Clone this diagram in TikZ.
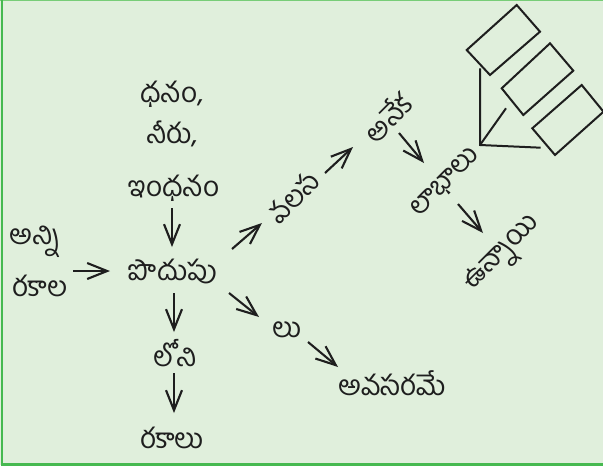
\documentclass[tikz,border=0pt]{standalone}
\usepackage{fontspec}
\newfontfamily\telugu[Script=Telugu]{Hind Guntur}
\usetikzlibrary{arrows.meta}
\definecolor{bgc}{RGB}{224,239,220}
\definecolor{brd}{RGB}{70,185,80}
\definecolor{brdtop}{RGB}{120,205,120}
\definecolor{ink}{RGB}{30,30,30}
\tikzset{
  lbl/.style={inner sep=2pt, font=\telugu\fontsize{28}{32}\selectfont, text=ink},
  arr/.style={draw=ink, line width=2.1pt, -{Straight Barb[length=20pt,width=16pt,line width=2.1pt]}},
  box/.style={draw=ink, line width=2pt, line join=miter}
}
\begin{document}
\begin{tikzpicture}[x=1pt,y=-1pt]
\useasboundingbox (0,0) rectangle (603,469);
\fill[white] (0,0) rectangle (603,469);
\fill[bgc] (0,0) rectangle (603,465);
\fill[brdtop] (0,0) rectangle (603,1.2);
\fill[brd] (1,0) rectangle (3.4,465.5);
\fill[brd] (1,462.8) rectangle (603,465.5);

\node[lbl] (dhanam) at (172,94) {ధనం,};
\node[lbl] (neeru) at (172,134) {నీరు,};
\node[lbl] (indhanam) at (174,188) {ఇంధనం};
\node[lbl] (anni) at (35,242) {అన్ని};
\node[lbl] (rakala) at (40,286) {రకాల};
\node[lbl] (podupu) at (173,271) {పొదుపు};
\node[lbl] (loni) at (175,353) {లోని};
\node[lbl] (rakalu) at (172,438) {రకాలు};
\node[lbl] (lu) at (287,330) {లు};
\node[lbl] (avasarame) at (392,383) {అవసరమే};
\node[lbl, rotate=45] (valasa) at (293,197) {వలస};
\node[lbl, rotate=45] (aneka) at (387,117) {అనేక};
\node[lbl, rotate=45] (labhalu) at (446,183) {లాభాలు};
\node[lbl, rotate=45] (unnayi) at (504,255) {ఉన్నాయి};

\draw[arr] (indhanam.center) ++(-2,20) -- ++(0,39);
\draw[arr] (rakala.center) ++(33,-15) -- ++(37,0);
\draw[arr] (podupu.center) ++(1,22) -- ++(0,39);
\draw[arr] (loni.center) ++(-1,20) -- ++(0,40);
\draw[arr] (podupu.center) ++(59,-22) -- ++(30,-26);
\draw[arr] (podupu.center) ++(56,22) -- ++(30,24);
\draw[arr] (lu.center) ++(21,12) -- ++(30,25);
\draw[arr] (valasa.center) ++(32,-24) -- ++(28,-26);
\draw[arr] (aneka.center) ++(12,16) -- ++(25,30);
\draw[arr] (labhalu.center) ++(12,21) -- ++(25,29);

% rectangles and corner mark
\draw[box] (516.7,5) -- (540,31.7) -- (490,75) -- (466.7,50) -- cycle;
\draw[box] (550,43.3) -- (573.3,70.7) -- (523.3,115) -- (501.7,88.3) -- cycle;
\draw[box] (581.7,85) -- (603.5,111.7) -- (555,155) -- (532.3,128.3) -- cycle;
\coordinate (corner) at (480,145);
\draw[box] (480,68.3) -- (corner) -- (540.7,147.7);
\draw[box] (corner) -- (506,108.3);
\end{tikzpicture}
\end{document}
